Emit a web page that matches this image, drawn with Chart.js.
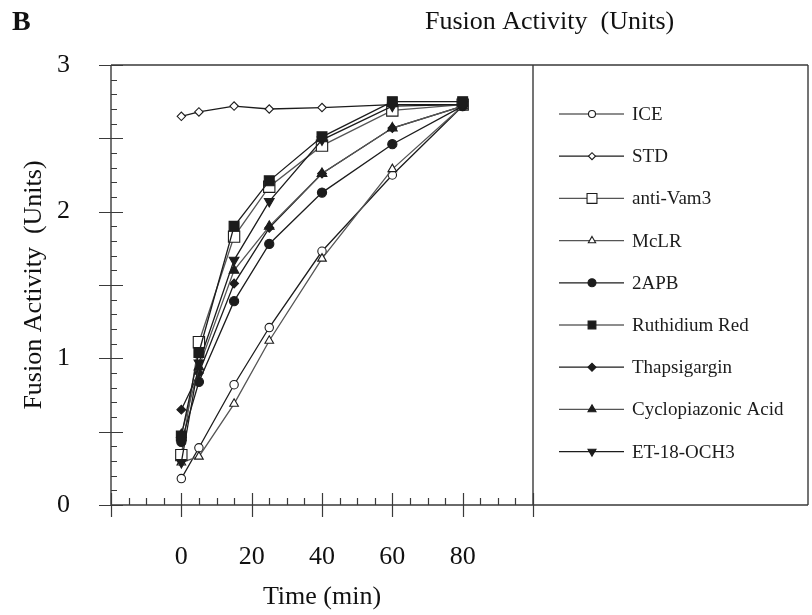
<!DOCTYPE html>
<html>
<head>
<meta charset="utf-8">
<title>Fusion Activity</title>
<script src="https://cdn.jsdelivr.net/npm/chart.js@4.4.1/dist/chart.umd.min.js"></script>
<style>
    html, body { margin: 0; padding: 0; background: #fff; }
    #fusionChart { display: block; }
</style>
</head>
<body>
<canvas id="fusionChart" width="812" height="615"></canvas>
<script>
// time points (min) and fusion activity (units) per treatment
const timePoints = [0, 5, 15, 25, 40, 60, 80];
const seriesNames = ['ICE', 'STD', 'anti-Vam3', 'McLR', '2APB', 'Ruthidium Red', 'Thapsigargin', 'Cyclopiazonic Acid', 'ET-18-OCH3'];
const iceValues = [0.18, 0.39, 0.82, 1.21, 1.73, 2.25, 2.72];
const stdValues = [2.65, 2.68, 2.72, 2.70, 2.71, 2.73, 2.73];
const antiVam3Values = [0.34, 1.11, 1.83, 2.17, 2.45, 2.69, 2.73];
const mclrValues = [0.29, 0.33, 0.69, 1.12, 1.68, 2.29, 2.72];
const apbValues = [0.43, 0.84, 1.39, 1.78, 2.13, 2.46, 2.72];
const ruthidiumValues = [0.47, 1.04, 1.90, 2.21, 2.51, 2.75, 2.75];
const thapsigarginValues = [0.65, 0.90, 1.51, 1.89, 2.26, 2.57, 2.72];
const cyclopiazonicValues = [0.48, 0.94, 1.60, 1.90, 2.26, 2.57, 2.72];
const etValues = [0.29, 0.97, 1.67, 2.07, 2.49, 2.72, 2.73];
const xTickLabels = [0, 20, 40, 60, 80];
const yTickLabels = [0, 1, 2, 3];

const INK = '#1c1c1c';
const GREY_INK = '#555555';
const FONT = "'Liberation Serif', 'Times New Roman', serif";

// marker look for each series: [style, rotation, radius, filled, legendRadius, lineColour, drawOrder]
const markers = [
    ['circle', 0, 4.2, false, 3.5, INK, 8],
    ['rectRot', 0, 4.2, false, 3.5, INK, 9],
    ['rect', 0, 8, false, 7, GREY_INK, 6],
    ['triangle', 0, 5, false, 4.2, GREY_INK, 7],
    ['circle', 0, 4.6, true, 4, INK, 4],
    ['rect', 0, 7, true, 5.5, INK, 0],
    ['rectRot', 0, 4.4, true, 4, INK, 3],
    ['triangle', 0, 5.6, true, 4.6, GREY_INK, 2],
    ['triangle', 180, 5.6, true, 4.6, INK, 1]
];

const allValues = [iceValues, stdValues, antiVam3Values, mclrValues, apbValues,
    ruthidiumValues, thapsigarginValues, cyclopiazonicValues, etValues];

function buildDatasets() {
    return allValues.map((vals, i) => {
        const [style, rot, radius, filled, , lineColour, drawOrder] = markers[i];
        return {
            label: seriesNames[i],
            data: timePoints.map((t, j) => ({ x: t, y: vals[j] })),
            order: drawOrder,
            borderColor: lineColour,
            borderWidth: 1.3,
            backgroundColor: filled ? INK : '#ffffff',
            pointStyle: style,
            rotation: rot,
            pointRadius: radius,
            pointBorderWidth: 1.1,
            pointBorderColor: INK,
            pointBackgroundColor: filled ? INK : '#ffffff',
            tension: 0,
            fill: false
        };
    });
}

// frame, inward ticks, legend box and texts
const framePlugin = {
    id: 'frame',
    beforeDatasetsDraw(chart) {
        const ctx = chart.ctx;
        const xs = chart.scales.x;
        const ys = chart.scales.y;
        const area = chart.chartArea;
        const boxRight = 808;
        ctx.save();
        ctx.strokeStyle = '#3a3a3a';
        ctx.lineWidth = 1.4;
        ctx.beginPath();
        ctx.moveTo(area.left, area.top); ctx.lineTo(boxRight, area.top);
        ctx.moveTo(area.left, area.bottom); ctx.lineTo(boxRight, area.bottom);
        ctx.moveTo(area.left, area.top); ctx.lineTo(area.left, area.bottom);
        ctx.moveTo(area.right, area.top); ctx.lineTo(area.right, area.bottom);
        ctx.moveTo(boxRight, area.top); ctx.lineTo(boxRight, area.bottom);
        ctx.stroke();

        ctx.lineWidth = 1.2;
        ctx.beginPath();
        for (let t = xs.min; t <= xs.max + 0.01; t += 5) {
            const px = Math.round(xs.getPixelForValue(t)) + 0.5;
            if (t % 20 === 0) {
                ctx.moveTo(px, area.bottom - 12); ctx.lineTo(px, area.bottom + 12);
            } else {
                ctx.moveTo(px, area.bottom); ctx.lineTo(px, area.bottom - 7);
            }
        }
        for (let k = 0; k <= 30; k++) {
            const py = Math.round(ys.getPixelForValue(k / 10)) + 0.5;
            if (k % 5 === 0) {
                ctx.moveTo(area.left - 12, py); ctx.lineTo(area.left + 12, py);
            } else {
                ctx.moveTo(area.left, py); ctx.lineTo(area.left + 6, py);
            }
        }
        ctx.stroke();

        // legend, in the original series order
        ctx.font = '19px ' + FONT;
        ctx.textBaseline = 'middle';
        ctx.textAlign = 'left';
        chart.data.datasets.forEach((ds, i) => {
            const y = 114 + i * 42.2;
            ctx.strokeStyle = ds.borderColor;
            ctx.lineWidth = 1.2;
            ctx.beginPath();
            ctx.moveTo(559, y); ctx.lineTo(624, y);
            ctx.stroke();
            ctx.fillStyle = ds.pointBackgroundColor;
            ctx.strokeStyle = INK;
            ctx.lineWidth = 1.1;
            Chart.helpers.drawPoint(ctx, {
                pointStyle: ds.pointStyle,
                rotation: ds.rotation,
                radius: markers[i][4],
                borderWidth: 1.1
            }, 592, y);
            ctx.fillStyle = INK;
            ctx.fillText(ds.label, 632, y + 1);
        });

        ctx.fillStyle = '#111';
        ctx.font = 'bold 28px ' + FONT;
        ctx.fillText('B', 12, 23);
        ctx.font = '26px ' + FONT;
        ctx.fillText('Fusion Activity  (Units)', 425, 22);
        ctx.restore();
    }
};

const chart = new Chart(document.getElementById('fusionChart'), {
    type: 'line',
    data: { datasets: buildDatasets() },
    options: {
        responsive: false,
        animation: false,
        layout: { padding: { left: 0, top: 65, right: 279, bottom: 0 } },
        plugins: {
            legend: { display: false },
            tooltip: { enabled: false }
        },
        scales: {
            x: {
                type: 'linear',
                min: -20,
                max: 100,
                grid: { display: false },
                border: { display: false },
                ticks: {
                    stepSize: 20,
                    padding: 29,
                    color: '#111',
                    font: { family: FONT, size: 26 },
                    callback: (v) => xTickLabels.includes(v) ? String(v) : ''
                },
                title: {
                    display: true,
                    text: 'Time (min)',
                    color: '#111',
                    font: { family: FONT, size: 26 },
                    padding: { top: 0, bottom: 2 }
                },
                afterFit: (scale) => { scale.height = 110; }
            },
            y: {
                min: 0,
                max: 3,
                grid: { display: false },
                border: { display: false },
                ticks: {
                    stepSize: 1,
                    padding: 33,
                    color: '#111',
                    font: { family: FONT, size: 26 },
                    callback: (v) => yTickLabels.includes(v) ? String(v) : ''
                },
                title: {
                    display: true,
                    text: 'Fusion Activity  (Units)',
                    color: '#111',
                    font: { family: FONT, size: 26 },
                    padding: { top: 19, bottom: 0 }
                },
                afterFit: (scale) => { scale.width = 111; }
            }
        }
    },
    plugins: [framePlugin]
});
</script>
</body>
</html>
